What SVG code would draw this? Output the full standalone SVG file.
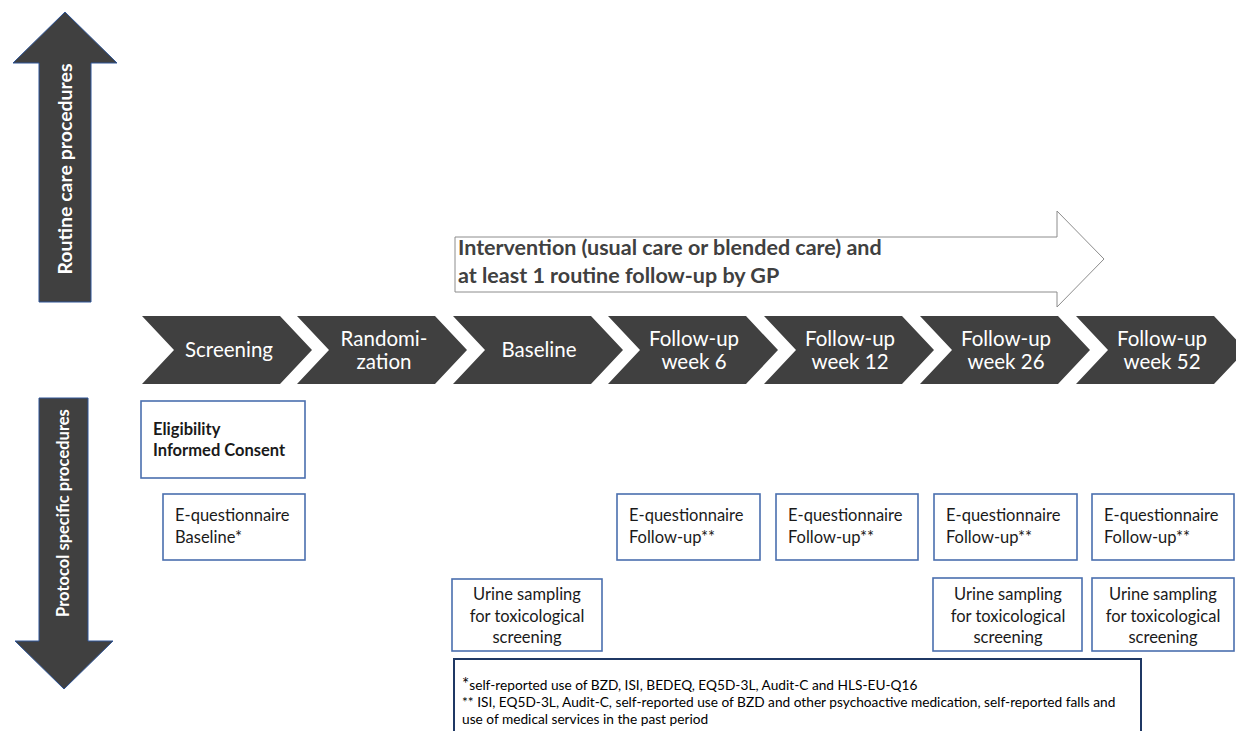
<svg xmlns="http://www.w3.org/2000/svg" width="1236" height="731" viewBox="0 0 1236 731">
<style>
text{font-family:Lato,"Open Sans","Liberation Sans",sans-serif}
.chev{fill:#404040}
.ct{fill:#fff;font-size:20.5px;text-anchor:middle}
.varrow{fill:#404040;stroke:#2f5597;stroke-width:1}
.vt{fill:#fff;font-weight:bold}
.box{fill:#fff;stroke:#4a6fae;stroke-width:1.6}
.bt{fill:#1a1a1a;font-size:16.5px}
.bc{text-anchor:middle}
.fn{font-size:13.7px;fill:#000}
</style>
<rect width="1236" height="731" fill="#fff"/>
<g id="routine-arrow">
<polygon class="varrow" points="65,12 117,63 91,63 91,302 39,302 39,63 13,63"/>
<text class="vt" font-size="19.5" transform="translate(72,169) rotate(-90)" text-anchor="middle">Routine care procedures</text>
</g>
<g id="protocol-arrow">
<polygon class="varrow" points="39,398 88,398 88,641 113,641 64,689 15,641 39,641"/>
<text class="vt" font-size="16.5" transform="translate(69,513) rotate(-90)" text-anchor="middle">Protocol specific procedures</text>
</g>
<g id="intervention">
<polygon points="455,237 1057,237 1057,211 1104,259 1057,307 1057,292 455,292" fill="#fff" stroke="#8c8c8c" stroke-width="1"/>
<text x="458" y="255" font-size="21.5" font-weight="bold" fill="#404040">Intervention (usual care or blended care) and</text>
<text x="458" y="283" font-size="21.5" font-weight="bold" fill="#404040">at least 1 routine follow-up by GP</text>
</g>
<g id="chev-screening">
<polygon class="chev" points="142,316 280,316 312,350 280,384 142,384 174,350"/>
<text class="ct" x="229" y="357">Screening</text>
</g>
<g id="chev-randomization">
<polygon class="chev" points="297,316 435,316 467,350 435,384 297,384 329,350"/>
<text class="ct" x="384" y="346">Randomi-</text>
<text class="ct" x="384" y="369">zation</text>
</g>
<g id="chev-baseline">
<polygon class="chev" points="453,316 591,316 623,350 591,384 453,384 485,350"/>
<text class="ct" x="539" y="357">Baseline</text>
</g>
<g id="chev-week6">
<polygon class="chev" points="608,316 746,316 778,350 746,384 608,384 640,350"/>
<text class="ct" x="694" y="346">Follow-up</text>
<text class="ct" x="694" y="369">week 6</text>
</g>
<g id="chev-week12">
<polygon class="chev" points="764,316 902,316 934,350 902,384 764,384 796,350"/>
<text class="ct" x="850" y="346">Follow-up</text>
<text class="ct" x="850" y="369">week 12</text>
</g>
<g id="chev-week26">
<polygon class="chev" points="920,316 1058,316 1090,350 1058,384 920,384 952,350"/>
<text class="ct" x="1006" y="346">Follow-up</text>
<text class="ct" x="1006" y="369">week 26</text>
</g>
<g id="chev-week52">
<polygon class="chev" points="1076,316 1214,316 1246,350 1214,384 1076,384 1108,350"/>
<text class="ct" x="1162" y="346">Follow-up</text>
<text class="ct" x="1162" y="369">week 52</text>
</g>
<g id="box-eligibility">
<rect class="box" x="141" y="401" width="164" height="77"/>
<text class="bt" x="153" y="435" font-weight="bold" fill="#000" font-size="16.8">Eligibility</text>
<text class="bt" x="153" y="456" font-weight="bold" fill="#000" font-size="16.8">Informed Consent</text>
</g>
<g id="box-eq-baseline">
<rect class="box" x="163" y="494" width="142" height="66"/>
<text class="bt" x="175" y="521">E-questionnaire</text>
<text class="bt" x="175" y="543">Baseline*</text>
</g>
<g id="box-eq-week6">
<rect class="box" x="617" y="494" width="143" height="66"/>
<text class="bt" x="629" y="521">E-questionnaire</text>
<text class="bt" x="629" y="543">Follow-up**</text>
</g>
<g id="box-eq-week12">
<rect class="box" x="776" y="494" width="142" height="66"/>
<text class="bt" x="788" y="521">E-questionnaire</text>
<text class="bt" x="788" y="543">Follow-up**</text>
</g>
<g id="box-eq-week26">
<rect class="box" x="934" y="494" width="143" height="66"/>
<text class="bt" x="946" y="521">E-questionnaire</text>
<text class="bt" x="946" y="543">Follow-up**</text>
</g>
<g id="box-eq-week52">
<rect class="box" x="1092" y="494" width="142" height="66"/>
<text class="bt" x="1104" y="521">E-questionnaire</text>
<text class="bt" x="1104" y="543">Follow-up**</text>
</g>
<g id="box-urine-baseline">
<rect class="box" x="452" y="579" width="150" height="72"/>
<text class="bt bc" x="527" y="600">Urine sampling</text>
<text class="bt bc" x="527" y="622">for toxicological</text>
<text class="bt bc" x="527" y="643">screening</text>
</g>
<g id="box-urine-week26">
<rect class="box" x="933" y="578" width="149" height="73"/>
<text class="bt bc" x="1008" y="600">Urine sampling</text>
<text class="bt bc" x="1008" y="622">for toxicological</text>
<text class="bt bc" x="1008" y="643">screening</text>
</g>
<g id="box-urine-week52">
<rect class="box" x="1092" y="578" width="142" height="73"/>
<text class="bt bc" x="1163" y="600">Urine sampling</text>
<text class="bt bc" x="1163" y="622">for toxicological</text>
<text class="bt bc" x="1163" y="643">screening</text>
</g>
<g id="footnote">
<rect x="454" y="659" width="687" height="80" fill="#fff" stroke="#1f3864" stroke-width="2"/>
<text class="fn" x="462" y="690"><tspan font-size="17">*</tspan>self-reported use of BZD, ISI, BEDEQ, EQ5D-3L, Audit-C and HLS-EU-Q16</text>
<text class="fn" x="462" y="707">** ISI, EQ5D-3L, Audit-C, self-reported use of BZD and other psychoactive medication, self-reported falls and</text>
<text class="fn" x="462" y="724">use of medical services in the past period</text>
</g>
</svg>
